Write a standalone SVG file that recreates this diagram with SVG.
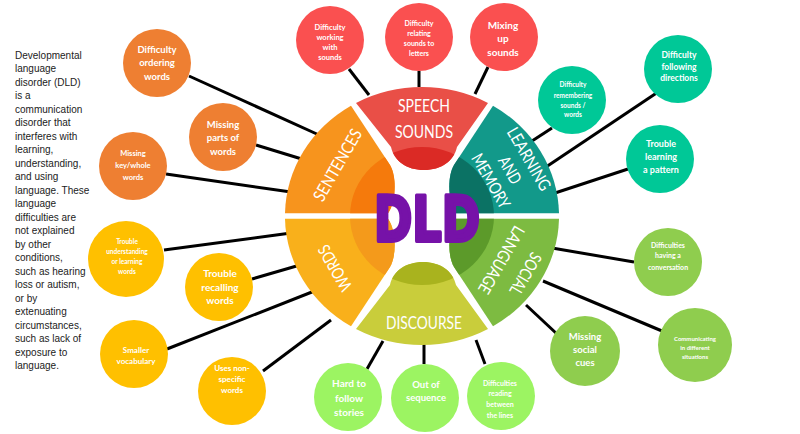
<svg xmlns="http://www.w3.org/2000/svg" xmlns:xlink="http://www.w3.org/1999/xlink" width="800" height="434" viewBox="0 0 800 434">
<style>
.bg{fill:#ffffff}
.desc{font-family:"Liberation Sans",Arial,sans-serif;font-size:10px;fill:#222}
.ct{font-family:Lato,"Liberation Sans",sans-serif;font-weight:bold;fill:#ffffff;text-anchor:middle}
.seg{font-family:Lato,"Liberation Sans",sans-serif;font-size:17px;fill:#ffffff;text-anchor:middle}
.dld{font-family:"DejaVu Sans","Liberation Sans",sans-serif;font-weight:bold;font-size:62px;fill:#7612A8;stroke:#7612A8;stroke-width:4;stroke-linejoin:round;text-anchor:middle}
.con line{stroke:#000;stroke-width:3;stroke-linecap:butt}
.red{fill:#FA5050}.org{fill:#EE7F32}.yel{fill:#FFC000}.lgr{fill:#9CF462}.teal{fill:#00C897}.grn{fill:#8FCD4E}
</style>
<defs>
<path id="pSpeech" d="M356,103 A137 129 0 0 1 488,103 L457,147 C454,161 441,170 424,170 C407,170 394,161 391,147 Z"/>
<path id="pSent" d="M285,213.3 A137 129 0 0 1 351,105.7 L390,165 C397,177 396,202 388,213.3 Z"/>
<path id="pLearn" d="M493,105.7 A137 129 0 0 1 559,213.3 L456,213.3 C448,202 447,177 454,165 Z"/>
<path id="pSocial" d="M559,218.7 A137 129 0 0 1 493,326.3 L454,267 C447,255 448,230 456,218.7 Z"/>
<path id="pDisc" d="M488,329 A137 129 0 0 1 356,329 L390,285 C393,271 406,262 423,262 C440,262 453,271 456,285 Z"/>
<path id="pWords" d="M351,326.3 A137 129 0 0 1 285,218.7 L388,218.7 C396,230 397,255 390,267 Z"/>
<clipPath id="inner"><ellipse cx="422" cy="216" rx="72" ry="69"/></clipPath>
</defs>
<rect class="bg" x="0" y="0" width="800" height="434"/>

<g id="description">
<text class="desc" x="15" y="58.5">Developmental</text>
<text class="desc" x="15" y="72">language</text>
<text class="desc" x="15" y="85.5">disorder (DLD)</text>
<text class="desc" x="15" y="99">is a</text>
<text class="desc" x="15" y="112.5">communication</text>
<text class="desc" x="15" y="126">disorder that</text>
<text class="desc" x="15" y="139.5">interferes with</text>
<text class="desc" x="15" y="153">learning,</text>
<text class="desc" x="15" y="166.5">understanding,</text>
<text class="desc" x="15" y="180">and using</text>
<text class="desc" x="15" y="193.5">language. These</text>
<text class="desc" x="15" y="207">language</text>
<text class="desc" x="15" y="220.5">difficulties are</text>
<text class="desc" x="15" y="234">not explained</text>
<text class="desc" x="15" y="247.5">by other</text>
<text class="desc" x="15" y="261">conditions,</text>
<text class="desc" x="15" y="274.5">such as hearing</text>
<text class="desc" x="15" y="288">loss or autism,</text>
<text class="desc" x="15" y="301.5">or by</text>
<text class="desc" x="15" y="315">extenuating</text>
<text class="desc" x="15" y="328.5">circumstances,</text>
<text class="desc" x="15" y="342">such as lack of</text>
<text class="desc" x="15" y="355.5">exposure to</text>
<text class="desc" x="15" y="369">language.</text>
</g>

<g id="connectors" class="con">
<line x1="349" y1="69" x2="369" y2="95"/>
<line x1="419" y1="71" x2="419" y2="87"/>
<line x1="488" y1="67" x2="475" y2="94"/>
<line x1="189" y1="76" x2="319" y2="135"/>
<line x1="256" y1="145" x2="305" y2="160"/>
<line x1="166" y1="174" x2="291" y2="192"/>
<line x1="164" y1="250" x2="291" y2="233"/>
<line x1="252" y1="279" x2="300" y2="265"/>
<line x1="167" y1="349" x2="317" y2="290"/>
<line x1="263" y1="371" x2="331" y2="320"/>
<line x1="367" y1="369" x2="383" y2="341"/>
<line x1="424" y1="364" x2="424" y2="343"/>
<line x1="485" y1="364" x2="476" y2="340"/>
<line x1="552" y1="128" x2="532" y2="141"/>
<line x1="658" y1="92" x2="546" y2="167"/>
<line x1="628" y1="169" x2="555" y2="193"/>
<line x1="634" y1="262" x2="552" y2="248"/>
<line x1="662" y1="331" x2="543" y2="281"/>
<line x1="557" y1="334" x2="526" y2="305"/>
</g>

<g id="wheel">
<g id="seg-speech">
<use xlink:href="#pSpeech" fill="#E94F47"/>
<use xlink:href="#pSpeech" fill="#DB2A25" clip-path="url(#inner)"/>
<text class="seg" x="424" y="112" textLength="52" lengthAdjust="spacingAndGlyphs">SPEECH</text>
<text class="seg" x="424" y="138" textLength="58" lengthAdjust="spacingAndGlyphs">SOUNDS</text>
</g>
<g id="seg-sentences">
<use xlink:href="#pSent" fill="#F7941D"/>
<use xlink:href="#pSent" fill="#F57A0C" clip-path="url(#inner)"/>
<g transform="translate(337.5,165) rotate(-60)"><text class="seg" x="0" y="6" textLength="80" lengthAdjust="spacingAndGlyphs">SENTENCES</text></g>
</g>
<g id="seg-learning">
<use xlink:href="#pLearn" fill="#12998A"/>
<use xlink:href="#pLearn" fill="#0B7264" clip-path="url(#inner)"/>
<g transform="translate(510,170) rotate(60)">
<text class="seg" x="0" y="-16" textLength="70" lengthAdjust="spacingAndGlyphs">LEARNING</text>
<text class="seg" x="0" y="6" textLength="29" lengthAdjust="spacingAndGlyphs">AND</text>
<text class="seg" x="0" y="28" textLength="60" lengthAdjust="spacingAndGlyphs">MEMORY</text>
</g>
</g>
<g id="seg-social">
<use xlink:href="#pSocial" fill="#7DBB41"/>
<use xlink:href="#pSocial" fill="#5C9A2A" clip-path="url(#inner)"/>
<g transform="translate(513.5,267) rotate(120)">
<text class="seg" x="0" y="-8" textLength="46" lengthAdjust="spacingAndGlyphs">SOCIAL</text>
<text class="seg" x="0" y="20" textLength="75" lengthAdjust="spacingAndGlyphs">LANGUAGE</text>
</g>
</g>
<g id="seg-discourse">
<use xlink:href="#pDisc" fill="#C9CD3B"/>
<use xlink:href="#pDisc" fill="#A9B31E" clip-path="url(#inner)"/>
<text class="seg" x="424" y="329" textLength="76" lengthAdjust="spacingAndGlyphs">DISCOURSE</text>
</g>
<g id="seg-words">
<use xlink:href="#pWords" fill="#F9B01B"/>
<use xlink:href="#pWords" fill="#F49A1B" clip-path="url(#inner)"/>
<g transform="translate(335,268) rotate(-120)"><text class="seg" x="0" y="6" textLength="50" lengthAdjust="spacingAndGlyphs">WORDS</text></g>
</g>
<g id="dld"><text class="dld" x="427" y="241" textLength="106" lengthAdjust="spacingAndGlyphs">DLD</text></g>
</g>

<g id="n1"><circle class="red" cx="330" cy="40" r="34"/><text class="ct" font-size="7.5"><tspan x="330" y="29.6">Difficulty</tspan><tspan x="330" y="39.6">working</tspan><tspan x="330" y="49.6">with</tspan><tspan x="330" y="59.6">sounds</tspan></text></g>
<g id="n2"><circle class="red" cx="419" cy="37" r="34"/><text class="ct" font-size="7"><tspan x="419" y="25.5">Difficulty</tspan><tspan x="419" y="35.5">relating</tspan><tspan x="419" y="45.5">sounds to</tspan><tspan x="419" y="55.5">letters</tspan></text></g>
<g id="n3"><circle class="red" cx="504" cy="37" r="34"/><text class="ct" font-size="10"><tspan x="503" y="28.5">Mixing</tspan><tspan x="503" y="41.5">up</tspan><tspan x="503" y="55.5">sounds</tspan></text></g>
<g id="n4"><circle class="org" cx="157" cy="63" r="34"/><text class="ct" font-size="9.5"><tspan x="157" y="53.3">Difficulty</tspan><tspan x="157" y="66.3">ordering</tspan><tspan x="157" y="80.3">words</tspan></text></g>
<g id="n5"><circle class="org" cx="223" cy="137" r="34"/><text class="ct" font-size="9.5"><tspan x="223" y="128.3">Missing</tspan><tspan x="223" y="141.3">parts of</tspan><tspan x="223" y="155.3">words</tspan></text></g>
<g id="n6"><circle class="org" cx="133" cy="166" r="34"/><text class="ct" font-size="7.5"><tspan x="133" y="155.6">Missing</tspan><tspan x="133" y="167.6">key/whole</tspan><tspan x="133" y="179.6">words</tspan></text></g>
<g id="n7"><circle class="yel" cx="126" cy="259" r="38"/><text class="ct" font-size="6.5"><tspan x="127" y="244.3">Trouble</tspan><tspan x="127" y="254.3">understanding</tspan><tspan x="127" y="264.3">or learning</tspan><tspan x="127" y="274.3">words</tspan></text></g>
<g id="n8"><circle class="yel" cx="219" cy="287" r="34"/><text class="ct" font-size="10"><tspan x="220" y="276.5">Trouble</tspan><tspan x="220" y="290.5">recalling</tspan><tspan x="220" y="303.5">words</tspan></text></g>
<g id="n9"><circle class="yel" cx="134" cy="354" r="34"/><text class="ct" font-size="8"><tspan x="136" y="352.8">Smaller</tspan><tspan x="136" y="363.8">vocabulary</tspan></text></g>
<g id="n10"><circle class="yel" cx="232" cy="391" r="34"/><text class="ct" font-size="8"><tspan x="232" y="370.8">Uses non-</tspan><tspan x="232" y="381.8">specific</tspan><tspan x="232" y="392.8">words</tspan></text></g>
<g id="n11"><circle class="lgr" cx="348" cy="397" r="34"/><text class="ct" font-size="10"><tspan x="349" y="386.5">Hard to</tspan><tspan x="349" y="401.5">follow</tspan><tspan x="349" y="415.5">stories</tspan></text></g>
<g id="n12"><circle class="lgr" cx="425" cy="398" r="34"/><text class="ct" font-size="9.5"><tspan x="426" y="388.3">Out of</tspan><tspan x="426" y="401.3">sequence</tspan></text></g>
<g id="n13"><circle class="lgr" cx="501" cy="396" r="34"/><text class="ct" font-size="7"><tspan x="500" y="385.5">Difficulties</tspan><tspan x="500" y="395.5">reading</tspan><tspan x="500" y="406.5">between</tspan><tspan x="500" y="417.5">the lines</tspan></text></g>
<g id="n14"><circle class="teal" cx="572" cy="100" r="34"/><text class="ct" font-size="6.5"><tspan x="573" y="87.3">Difficulty</tspan><tspan x="573" y="98.3">remembering</tspan><tspan x="573" y="108.3">sounds /</tspan><tspan x="573" y="117.3">words</tspan></text></g>
<g id="n15"><circle class="teal" cx="678" cy="69" r="34"/><text class="ct" font-size="8.5"><tspan x="679" y="58">Difficulty</tspan><tspan x="679" y="70">following</tspan><tspan x="679" y="81">directions</tspan></text></g>
<g id="n16"><circle class="teal" cx="660" cy="159" r="34"/><text class="ct" font-size="9"><tspan x="661" y="147">Trouble</tspan><tspan x="661" y="160">learning</tspan><tspan x="661" y="173">a pattern</tspan></text></g>
<g id="n17"><circle class="grn" cx="668" cy="262" r="34"/><text class="ct" font-size="7"><tspan x="668" y="247.5">Difficulties</tspan><tspan x="668" y="257.5">having a</tspan><tspan x="668" y="269.5">conversation</tspan></text></g>
<g id="n18"><circle class="grn" cx="695" cy="345" r="37"/><text class="ct" font-size="6"><tspan x="695" y="341">Communicating</tspan><tspan x="695" y="350">in different</tspan><tspan x="695" y="359">situations</tspan></text></g>
<g id="n19"><circle class="grn" cx="585" cy="351" r="35"/><text class="ct" font-size="9.5"><tspan x="585" y="340.3">Missing</tspan><tspan x="585" y="353.3">social</tspan><tspan x="585" y="366.3">cues</tspan></text></g>
</svg>
